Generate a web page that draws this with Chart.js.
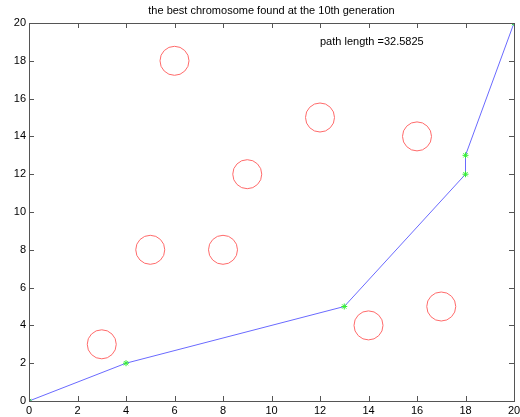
<!DOCTYPE html>
<html>
<head>
<meta charset="utf-8">
<script src="https://cdn.jsdelivr.net/npm/chart.js@4/dist/chart.umd.min.js"></script>
<style>
  html, body { margin: 0; padding: 0; background: #fff; }
  #wrap { width: 520px; height: 417px; }
</style>
</head>
<body>
<div id="wrap"><canvas id="plot" width="520" height="417"></canvas></div>
<script>
// best path found (x, y)
const pathX = [0, 4, 13, 18, 18, 20];
const pathY = [0, 2, 5, 12, 13, 20];
// obstacles (circle centres)
const obsX = [3, 5, 6, 8, 9, 12, 14, 16, 17];
const obsY = [3, 8, 18, 8, 12, 15, 4, 14, 5];
const tickVals = [0, 2, 4, 6, 8, 10, 12, 14, 16, 18, 20];
const titleText = 'the best chromosome found at the 10th generation';
const noteText = 'path length =32.5825';
const notePos = [12, 19];

const FONT = '"Liberation Sans", Arial, sans-serif';
const AXIS = '#555555';

// box, inward ticks, tick labels and texts, MATLAB style
const boxPlugin = {
  id: 'box',
  afterDraw(chart) {
    const c = chart.ctx, a = chart.chartArea;
    const xs = chart.scales.x, ys = chart.scales.y;
    c.save();
    c.strokeStyle = AXIS;
    c.lineWidth = 1;
    c.strokeRect(Math.round(a.left) + 0.5, Math.round(a.top) + 0.5,
                 Math.round(a.right - a.left), Math.round(a.bottom - a.top));
    c.beginPath();
    tickVals.forEach(v => {
      const px = Math.round(xs.getPixelForValue(v)) + 0.5;
      c.moveTo(px, a.bottom); c.lineTo(px, a.bottom - 5);
      c.moveTo(px, a.top); c.lineTo(px, a.top + 5);
      const py = Math.round(ys.getPixelForValue(v)) + 0.5;
      c.moveTo(a.left, py); c.lineTo(a.left + 5, py);
      c.moveTo(a.right, py); c.lineTo(a.right - 5, py);
    });
    c.stroke();
    c.fillStyle = '#000';
    c.font = '11px ' + FONT;
    c.textBaseline = 'middle';
    c.textAlign = 'center';
    tickVals.forEach(v => {
      c.fillText(String(v), xs.getPixelForValue(v), a.bottom + 10);
    });
    c.textAlign = 'right';
    tickVals.forEach(v => {
      c.fillText(String(v), a.left - 3, ys.getPixelForValue(v));
    });
    c.textAlign = 'center';
    c.fillText(titleText, (a.left + a.right) / 2, 11);
    c.textAlign = 'left';
    c.fillText(noteText, xs.getPixelForValue(notePos[0]), ys.getPixelForValue(notePos[1]));
    c.restore();
  }
};

new Chart(document.getElementById('plot'), {
  type: 'scatter',
  data: {
    datasets: [
      {
        label: 'obstacles',
        data: obsX.map((x, i) => ({ x: x, y: obsY[i] })),
        showLine: false,
        pointStyle: 'circle',
        pointRadius: 14.5,
        pointHoverRadius: 14.5,
        pointBorderWidth: 1,
        pointBorderColor: '#ff6a6a',
        pointBackgroundColor: 'rgba(0,0,0,0)'
      },
      {
        label: 'path',
        data: pathX.map((x, i) => ({ x: x, y: pathY[i] })),
        showLine: true,
        borderColor: '#6a6aff',
        borderWidth: 1,
        pointStyle: 'star',
        pointRadius: 3,
        pointBorderWidth: 1,
        pointBorderColor: '#33ee33',
        pointBackgroundColor: '#33ee33'
      }
    ]
  },
  options: {
    responsive: false,
    animation: false,
    layout: { autoPadding: false, padding: { top: 23, right: 6, left: 0, bottom: 0 } },
    plugins: {
      legend: { display: false },
      title: { display: false },
      tooltip: { enabled: false }
    },
    scales: {
      x: {
        type: 'linear', min: 0, max: 20,
        afterFit: s => { s.height = 16; },
        grid: { display: false },
        border: { display: false },
        ticks: { display: false }
      },
      y: {
        type: 'linear', min: 0, max: 20,
        afterFit: s => { s.width = 29; },
        grid: { display: false },
        border: { display: false },
        ticks: { display: false }
      }
    }
  },
  plugins: [boxPlugin]
});
</script>
</body>
</html>
